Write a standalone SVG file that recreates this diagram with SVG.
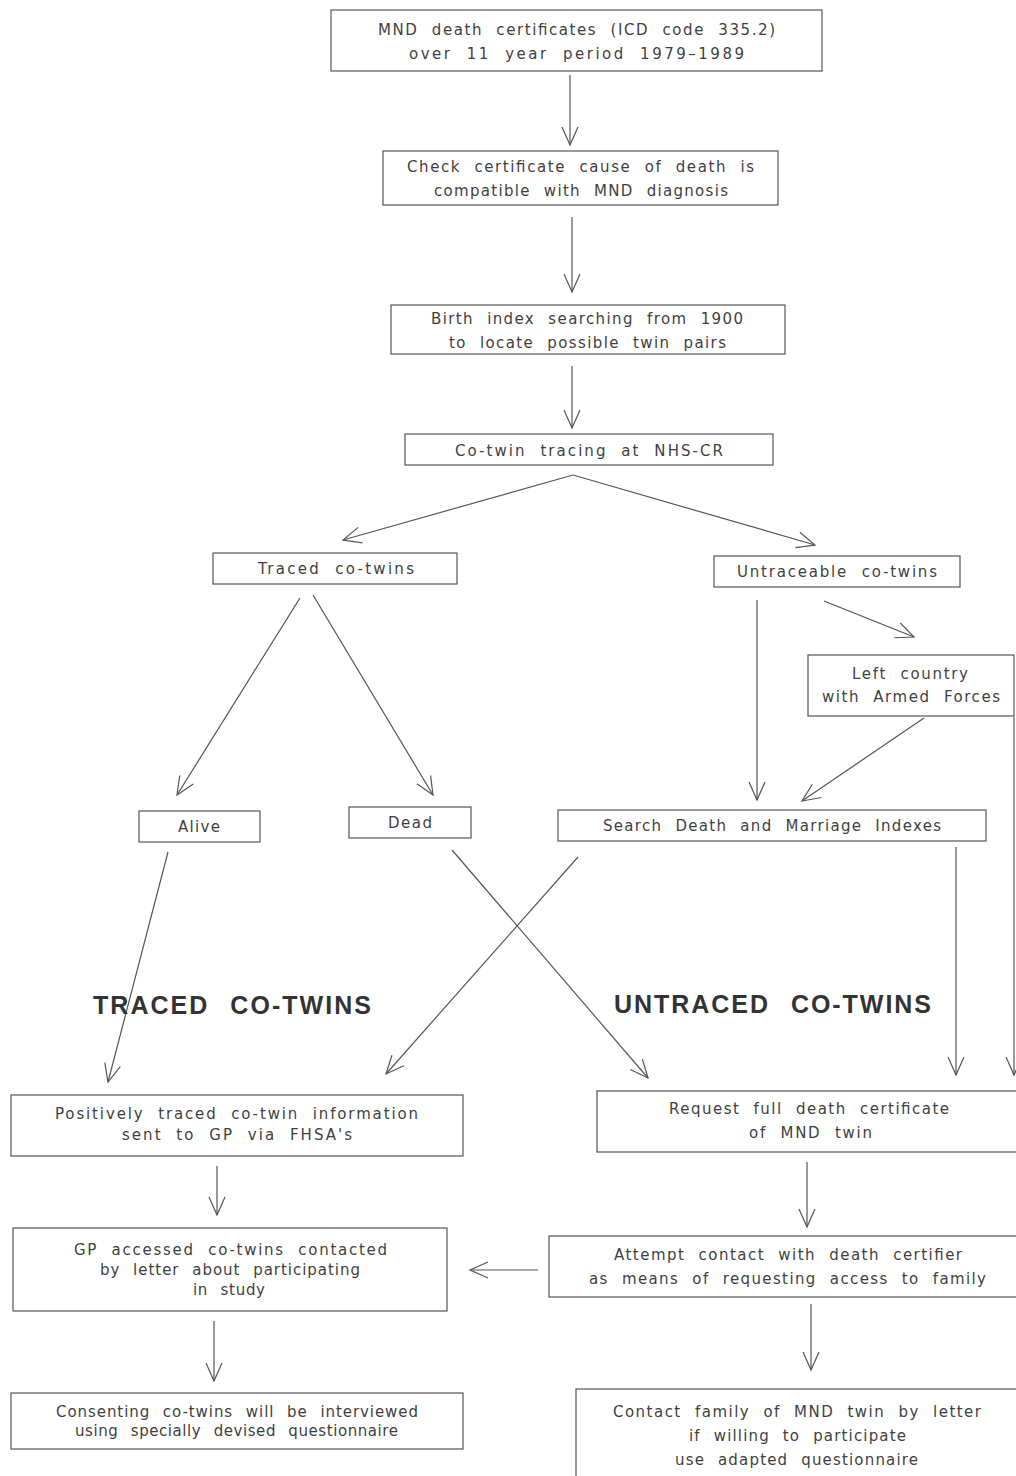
<svg xmlns="http://www.w3.org/2000/svg" width="1016" height="1476" viewBox="0 0 1016 1476">
<style>
.box{fill:none;stroke:#555;stroke-width:1.2}
.t{font-family:"DejaVu Sans","Liberation Sans",sans-serif;font-size:15px;fill:#3f3f3f;word-spacing:7px}
.h{font-family:"Liberation Sans",Arial,sans-serif;font-size:25px;font-weight:bold;fill:#333;word-spacing:12px}
.c{fill:none;stroke:#555;stroke-width:1.2;marker-end:url(#ah)}
</style>
<defs>
<marker id="ah" markerUnits="userSpaceOnUse" markerWidth="24" markerHeight="20" refX="0" refY="0" viewBox="-20 -10 24 20" orient="auto" overflow="visible">
<path d="M-18,-8 L0,0 L-18,8" fill="none" stroke="#555" stroke-width="1.2"/>
</marker>
</defs>
<rect width="1016" height="1476" fill="#fff"/>

<g id="connectors">
<line class="c" x1="570" y1="75" x2="570" y2="145"/>
<line class="c" x1="572" y1="217" x2="572" y2="292"/>
<line class="c" x1="572" y1="366" x2="572" y2="428"/>
<line class="c" x1="573" y1="475" x2="343" y2="540"/>
<line class="c" x1="573" y1="475" x2="815" y2="545"/>
<line class="c" x1="300" y1="598" x2="177" y2="795"/>
<line class="c" x1="313" y1="595" x2="433" y2="795"/>
<line class="c" x1="757" y1="600" x2="757" y2="800"/>
<line class="c" x1="824" y1="601" x2="914" y2="637"/>
<line class="c" x1="924" y1="718" x2="802" y2="801"/>
<line class="c" x1="1014" y1="717" x2="1014" y2="1075"/>
<line class="c" x1="956" y1="847" x2="956" y2="1075"/>
<line class="c" x1="168" y1="852" x2="108" y2="1082"/>
<line class="c" x1="452" y1="850" x2="648" y2="1078"/>
<line class="c" x1="578" y1="857" x2="386" y2="1074"/>
<line class="c" x1="217" y1="1166" x2="217" y2="1215"/>
<line class="c" x1="214" y1="1321" x2="214" y2="1381"/>
<line class="c" x1="807" y1="1162" x2="807" y2="1227"/>
<line class="c" x1="538" y1="1270" x2="470" y2="1270"/>
<line class="c" x1="811" y1="1304" x2="811" y2="1370"/>
</g>

<g id="n1"><rect class="box" x="331" y="10" width="491" height="61"/>
<text class="t" x="378" y="35" textLength="397" lengthAdjust="spacing">MND death certificates (ICD code 335.2)</text>
<text class="t" x="409" y="59" textLength="335" lengthAdjust="spacing">over 11 year period  1979–1989</text></g>

<g id="n2"><rect class="box" x="383" y="151" width="395" height="54"/>
<text class="t" x="407" y="172" textLength="347" lengthAdjust="spacing">Check certificate cause of death is</text>
<text class="t" x="434" y="196" textLength="294" lengthAdjust="spacing">compatible with MND diagnosis</text></g>

<g id="n3"><rect class="box" x="391" y="305" width="394" height="49"/>
<text class="t" x="431" y="324" textLength="312" lengthAdjust="spacing">Birth index searching from 1900</text>
<text class="t" x="449" y="348" textLength="277" lengthAdjust="spacing">to locate possible twin pairs</text></g>

<g id="n4"><rect class="box" x="405" y="434" width="368" height="31"/>
<text class="t" x="455" y="456" textLength="268" lengthAdjust="spacing">Co-twin tracing at NHS-CR</text></g>

<g id="n5"><rect class="box" x="213" y="553" width="244" height="31"/>
<text class="t" x="258" y="574" textLength="156" lengthAdjust="spacing">Traced co-twins</text></g>

<g id="n6"><rect class="box" x="714" y="556" width="246" height="31"/>
<text class="t" x="737" y="577" textLength="200" lengthAdjust="spacing">Untraceable co-twins</text></g>

<g id="n7"><rect class="box" x="808" y="655" width="206" height="61"/>
<text class="t" x="852" y="679" textLength="116" lengthAdjust="spacing">Left country</text>
<text class="t" x="822" y="702" textLength="178" lengthAdjust="spacing">with Armed Forces</text></g>

<g id="n8"><rect class="box" x="139" y="811" width="121" height="31"/>
<text class="t" x="178" y="832" textLength="42" lengthAdjust="spacing">Alive</text></g>

<g id="n9"><rect class="box" x="349" y="807" width="122" height="31"/>
<text class="t" x="388" y="828" textLength="44" lengthAdjust="spacing">Dead</text></g>

<g id="n10"><rect class="box" x="558" y="810" width="428" height="31"/>
<text class="t" x="603" y="831" textLength="338" lengthAdjust="spacing">Search Death and Marriage Indexes</text></g>

<g id="label-traced"><text class="h" x="93" y="1014" textLength="278" lengthAdjust="spacing">TRACED CO-TWINS</text></g>
<g id="label-untraced"><text class="h" x="614" y="1013" textLength="317" lengthAdjust="spacing">UNTRACED CO-TWINS</text></g>

<g id="n11"><rect class="box" x="11" y="1095" width="452" height="61"/>
<text class="t" x="55" y="1119" textLength="363" lengthAdjust="spacing">Positively traced co-twin information</text>
<text class="t" x="122" y="1140" textLength="230" lengthAdjust="spacing">sent to GP via FHSA's</text></g>

<g id="n12"><rect class="box" x="597" y="1091" width="430" height="61"/>
<text class="t" x="669" y="1114" textLength="280" lengthAdjust="spacing">Request full death certificate</text>
<text class="t" x="749" y="1138" textLength="123" lengthAdjust="spacing">of MND twin</text></g>

<g id="n13"><rect class="box" x="13" y="1228" width="434" height="83"/>
<text class="t" x="74" y="1255" textLength="313" lengthAdjust="spacing">GP accessed co-twins contacted</text>
<text class="t" x="100" y="1275" textLength="260" lengthAdjust="spacing">by letter about participating</text>
<text class="t" x="193" y="1295" textLength="72" lengthAdjust="spacing">in study</text></g>

<g id="n14"><rect class="box" x="549" y="1236" width="478" height="61"/>
<text class="t" x="614" y="1260" textLength="348" lengthAdjust="spacing">Attempt contact with death certifier</text>
<text class="t" x="589" y="1284" textLength="397" lengthAdjust="spacing">as means of requesting access to family</text></g>

<g id="n15"><rect class="box" x="11" y="1393" width="452" height="56"/>
<text class="t" x="56" y="1417" textLength="362" lengthAdjust="spacing">Consenting co-twins will be interviewed</text>
<text class="t" x="75" y="1436" textLength="323" lengthAdjust="spacing">using specially devised questionnaire</text></g>

<g id="n16"><rect class="box" x="576" y="1389" width="450" height="100"/>
<text class="t" x="613" y="1417" textLength="368" lengthAdjust="spacing">Contact family of MND twin by letter</text>
<text class="t" x="689" y="1441" textLength="217" lengthAdjust="spacing">if willing to participate</text>
<text class="t" x="675" y="1465" textLength="243" lengthAdjust="spacing">use adapted questionnaire</text></g>
</svg>
